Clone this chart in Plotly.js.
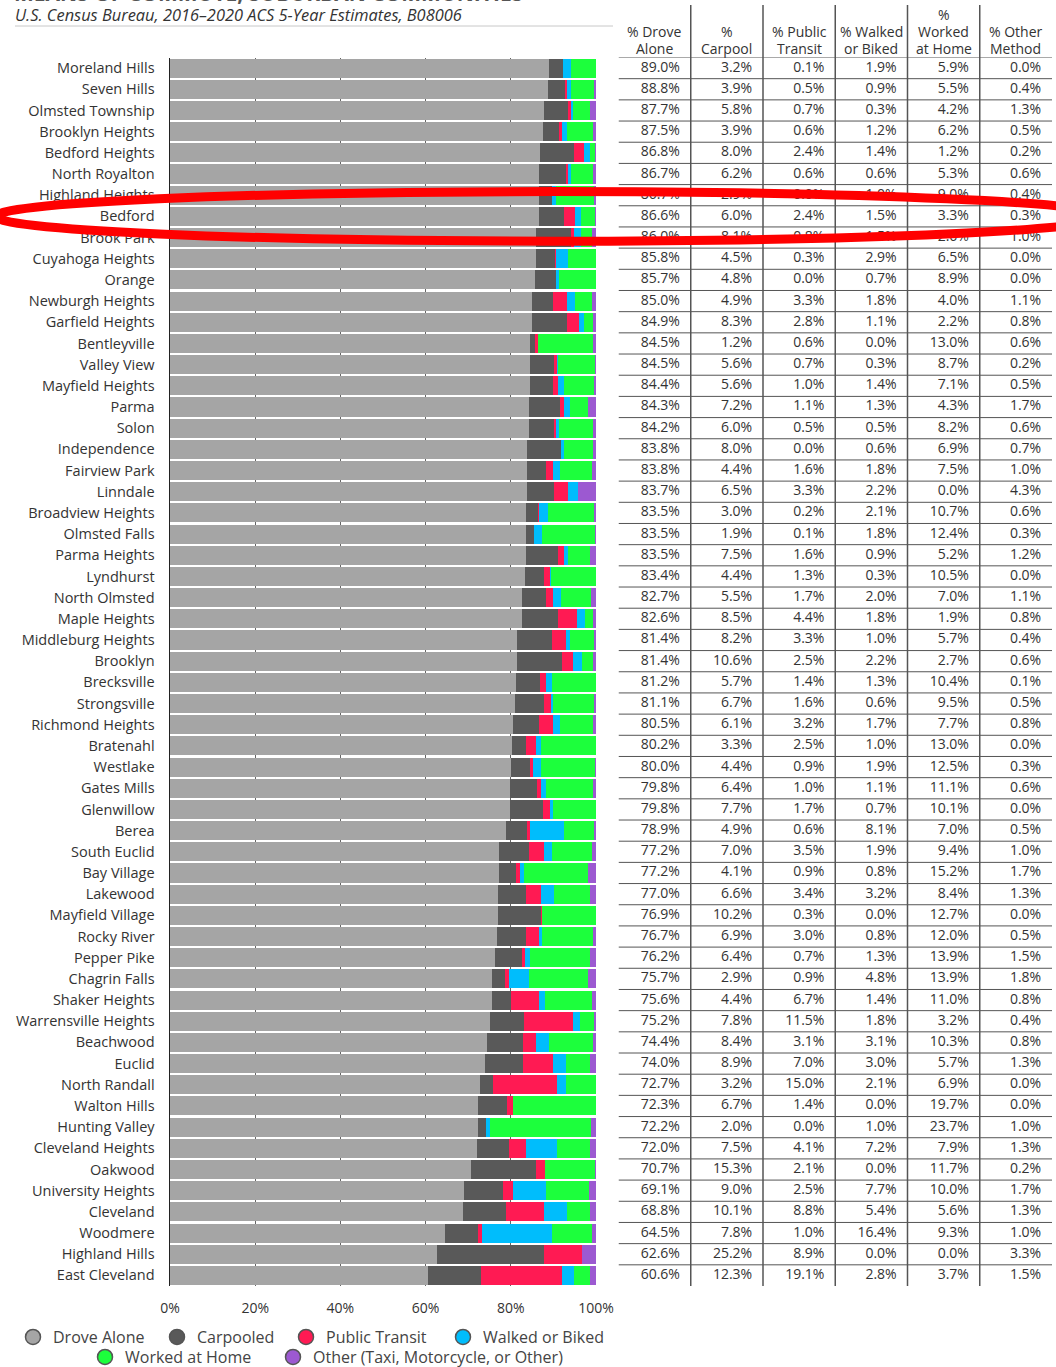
<!DOCTYPE html>
<html><head><meta charset="utf-8">
<script src="https://cdn.plot.ly/plotly-3.0.1.min.js"></script>
<style>html,body{margin:0;padding:0;background:#fff}</style>
</head><body><div id="chart" style="width:1056px;height:1367px"></div>
<script>
const cities = ["Moreland Hills","Seven Hills","Olmsted Township","Brooklyn Heights","Bedford Heights","North Royalton","Highland Heights","Bedford","Brook Park","Cuyahoga Heights","Orange","Newburgh Heights","Garfield Heights","Bentleyville","Valley View","Mayfield Heights","Parma","Solon","Independence","Fairview Park","Linndale","Broadview Heights","Olmsted Falls","Parma Heights","Lyndhurst","North Olmsted","Maple Heights","Middleburg Heights","Brooklyn","Brecksville","Strongsville","Richmond Heights","Bratenahl","Westlake","Gates Mills","Glenwillow","Berea","South Euclid","Bay Village","Lakewood","Mayfield Village","Rocky River","Pepper Pike","Chagrin Falls","Shaker Heights","Warrensville Heights","Beachwood","Euclid","North Randall","Walton Hills","Hunting Valley","Cleveland Heights","Oakwood","University Heights","Cleveland","Woodmere","Highland Hills","East Cleveland"];
const droveAlone = [89.0,88.8,87.7,87.5,86.8,86.7,86.7,86.6,86.0,85.8,85.7,85.0,84.9,84.5,84.5,84.4,84.3,84.2,83.8,83.8,83.7,83.5,83.5,83.5,83.4,82.7,82.6,81.4,81.4,81.2,81.1,80.5,80.2,80.0,79.8,79.8,78.9,77.2,77.2,77.0,76.9,76.7,76.2,75.7,75.6,75.2,74.4,74.0,72.7,72.3,72.2,72.0,70.7,69.1,68.8,64.5,62.6,60.6];
const carpool = [3.2,3.9,5.8,3.9,8.0,6.2,2.9,6.0,8.1,4.5,4.8,4.9,8.3,1.2,5.6,5.6,7.2,6.0,8.0,4.4,6.5,3.0,1.9,7.5,4.4,5.5,8.5,8.2,10.6,5.7,6.7,6.1,3.3,4.4,6.4,7.7,4.9,7.0,4.1,6.6,10.2,6.9,6.4,2.9,4.4,7.8,8.4,8.9,3.2,6.7,2.0,7.5,15.3,9.0,10.1,7.8,25.2,12.3];
const transit = [0.1,0.5,0.7,0.6,2.4,0.6,0.0,2.4,0.8,0.3,0.0,3.3,2.8,0.6,0.7,1.0,1.1,0.5,0.0,1.6,3.3,0.2,0.1,1.6,1.3,1.7,4.4,3.3,2.5,1.4,1.6,3.2,2.5,0.9,1.0,1.7,0.6,3.5,0.9,3.4,0.3,3.0,0.7,0.9,6.7,11.5,3.1,7.0,15.0,1.4,0.0,4.1,2.1,2.5,8.8,1.0,8.9,19.1];
const walked = [1.9,0.9,0.3,1.2,1.4,0.6,1.0,1.5,1.5,2.9,0.7,1.8,1.1,0.0,0.3,1.4,1.3,0.5,0.6,1.8,2.2,2.1,1.8,0.9,0.3,2.0,1.8,1.0,2.2,1.3,0.6,1.7,1.0,1.9,1.1,0.7,8.1,1.9,0.8,3.2,0.0,0.8,1.3,4.8,1.4,1.8,3.1,3.0,2.1,0.0,1.0,7.2,0.0,7.7,5.4,16.4,0.0,2.8];
const workedHome = [5.9,5.5,4.2,6.2,1.2,5.3,9.0,3.3,2.6,6.5,8.9,4.0,2.2,13.0,8.7,7.1,4.3,8.2,6.9,7.5,0.0,10.7,12.4,5.2,10.5,7.0,1.9,5.7,2.7,10.4,9.5,7.7,13.0,12.5,11.1,10.1,7.0,9.4,15.2,8.4,12.7,12.0,13.9,13.9,11.0,3.2,10.3,5.7,6.9,19.7,23.7,7.9,11.7,10.0,5.6,9.3,0.0,3.7];
const otherMethod = [0.0,0.4,1.3,0.5,0.2,0.6,0.4,0.3,1.0,0.0,0.0,1.1,0.8,0.6,0.2,0.5,1.7,0.6,0.7,1.0,4.3,0.6,0.3,1.2,0.0,1.1,0.8,0.4,0.6,0.1,0.5,0.8,0.0,0.3,0.6,0.0,0.5,1.0,1.7,1.3,0.0,0.5,1.5,1.8,0.8,0.4,0.8,1.3,0.0,0.0,1.0,1.3,0.2,1.7,1.3,1.0,3.3,1.5];
const seriesNames = ["Drove Alone","Carpooled","Public Transit","Walked or Biked","Worked at Home","Other (Taxi, Motorcycle, or Other)"];
const seriesColors = ["#a5a5a5","#595959","#ff1a53","#00bdfc","#1cff3c","#9c59d1"];
const tableHeaders = ["% Drove<br>Alone","%<br>Carpool","% Public<br>Transit","% Walked<br>or Biked","%<br>Worked<br>at Home","% Other<br>Method"];
const xTickVals = [0,20,40,60,80,100];
const xTickText = ["0%","20%","40%","60%","80%","100%"];
const subtitle = "U.S. Census Bureau, 2016–2020 ACS 5-Year Estimates, B08006";
const titleText = "MEANS OF COMMUTE, SUBURBAN COMMUNITIES";
const highlighted = "Bedford";

const W = 1056, H = 1367;
const px = v => v / W;
const py = v => (H - v) / H;
const FONT = "Open Sans, Noto Sans, sans-serif";
const series = [droveAlone, carpool, transit, walked, workedHome, otherMethod];
const legendPos = [[52,1337],[196,1337],[325,1337],[482,1337],[124,1357],[312,1357]];

const traces = [];
series.forEach((vals, i) => {
  traces.push({
    type: "bar", orientation: "h", x: vals, y: cities, name: seriesNames[i],
    marker: {color: seriesColors[i], line: {width: 0}}, showlegend: false,
    hoverinfo: "x+y", xaxis: "x", yaxis: "y"
  });
});
series.forEach((vals, i) => {
  traces.push({
    type: "scatter", mode: "text", x: vals.map(() => i + 0.85), y: cities,
    text: vals.map(v => v.toFixed(1) + "%"), textposition: "middle left",
    textfont: {family: FONT, size: 14, color: "#333"}, cliponaxis: false,
    showlegend: false, hoverinfo: "skip", xaxis: "x2", yaxis: "y"
  });
});
const legendNames = ["legend","legend2","legend3","legend4","legend5","legend6"];
series.forEach((vals, i) => {
  traces.push({
    type: "scatter", mode: "markers", x: [null], y: [null], name: seriesNames[i],
    marker: {color: seriesColors[i], size: 15, symbol: "circle", line: {color: "#555", width: 1.5}},
    legend: legendNames[i], xaxis: "x", yaxis: "y", hoverinfo: "skip"
  });
});

const shapes = [];
for (let k = 0; k < cities.length; k++) {
  shapes.push({type: "line", xref: "x2", yref: "y", x0: 0, x1: 6, y0: k - 0.5, y1: k - 0.5,
    line: {color: "#555", width: 1}, layer: "below"});
}
for (let c = 1; c <= 5; c++) {
  shapes.push({type: "line", xref: "x2", yref: "paper", x0: c, x1: c, y0: py(1286), y1: py(5),
    line: {color: "#555", width: 1.5}, layer: "below"});
}
shapes.push({type: "line", xref: "paper", yref: "paper", x0: px(15), x1: px(613), y0: py(26), y1: py(26),
  line: {color: "#c8c8c8", width: 1}});
const hi = cities.indexOf(highlighted);
shapes.push({type: "circle", xref: "paper", yref: "y", x0: px(-4), x1: px(1110), y0: hi - 1.17, y1: hi + 1.17,
  line: {color: "#ff0000", width: 9}, fillcolor: "rgba(0,0,0,0)", layer: "above"});

const annotations = [];
tableHeaders.forEach((t, i) => {
  const lines = t.split("<br>");
  lines.forEach((ln, j) => {
    const yc = 48.5 - 17 * (lines.length - 1 - j);
    annotations.push({xref: "x2", yref: "paper", x: i + 0.5, y: py(yc), xanchor: "center", yanchor: "middle",
      text: ln, showarrow: false, borderpad: 0, font: {family: FONT, size: 14, color: "#333"}});
  });
});
annotations.push({xref: "paper", yref: "paper", x: px(13), y: py(14), xanchor: "left", yanchor: "middle",
  text: "<i>" + subtitle + "</i>", showarrow: false, font: {family: FONT, size: 16.4, color: "#333"}});
annotations.push({xref: "paper", yref: "paper", x: px(13), y: py(8), xanchor: "left", yanchor: "bottom",
  text: "<b>" + titleText + "</b>", showarrow: false, borderpad: 0, font: {family: FONT, size: 21, color: "#555"}});

const layout = {
  width: W, height: H, margin: {l: 0, r: 0, t: 0, b: 0, autoexpand: false},
  paper_bgcolor: "#fff", plot_bgcolor: "rgba(0,0,0,0)",
  barmode: "stack", bargap: 0.1,
  font: {family: FONT, color: "#333"},
  xaxis: {domain: [px(170), px(596)], range: [0, 100], tickvals: xTickVals, ticktext: xTickText,
    showgrid: true, gridcolor: "#666", gridwidth: 1, zeroline: false, showline: false,
    ticks: "", ticklabelstandoff: 12, tickfont: {family: FONT, size: 14, color: "#333"}, fixedrange: true},
  xaxis2: {domain: [px(618.5), px(1052)], range: [0, 6], visible: false, anchor: "y", fixedrange: true},
  yaxis: {domain: [py(1286), py(57.5)], type: "category", range: [cities.length - 0.5, -0.5],
    showline: true, linecolor: "#222", linewidth: 1.5, showgrid: false, zeroline: false, ticks: "",
    ticklabelstandoff: 11, tickfont: {family: FONT, size: 14.5, color: "#333"}, automargin: false, fixedrange: true},
  showlegend: true,
  shapes: shapes, annotations: annotations
};
legendNames.forEach((ln, i) => {
  layout[ln] = {orientation: "h", x: px(legendPos[i][0] - 39), xanchor: "left",
    y: py(legendPos[i][1]), yanchor: "middle", traceorder: "normal",
    font: {family: FONT, size: 16, color: "#444"}, bgcolor: "rgba(0,0,0,0)", borderwidth: 0, itemclick: false};
});
Plotly.newPlot("chart", traces, layout, {displayModeBar: false, staticPlot: true});
</script></body></html>
